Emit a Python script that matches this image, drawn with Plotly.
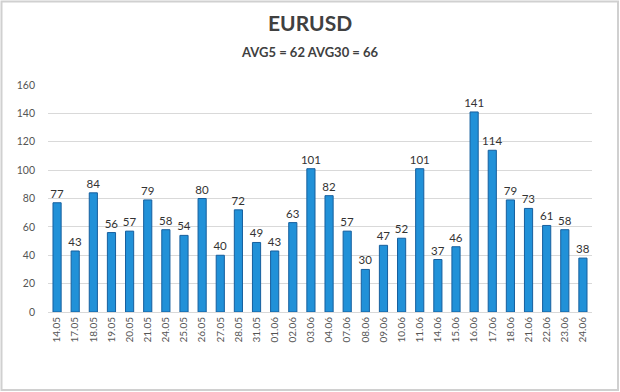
import plotly.graph_objects as go

dates = ["14.05", "17.05", "18.05", "19.05", "20.05", "21.05", "24.05", "25.05", "26.05", "27.05",
         "28.05", "31.05", "01.06", "02.06", "03.06", "04.06", "07.06", "08.06", "09.06", "10.06",
         "11.06", "14.06", "15.06", "16.06", "17.06", "18.06", "21.06", "22.06", "23.06", "24.06"]
values = [77, 43, 84, 56, 57, 79, 58, 54, 80, 40, 72, 49, 43, 63, 101, 82, 57, 30, 47, 52,
          101, 37, 46, 141, 114, 79, 73, 61, 58, 38]
y_ticks = [0, 20, 40, 60, 80, 100, 120, 140, 160]

title = "EURUSD"
subtitle = "AVG5 = 62 AVG30 = 66"

ML, MR, MT, MB = 48, 28, 85, 80
W, H = 620, 392

fig = go.Figure()
fig.add_trace(go.Bar(
    x=dates, y=values,
    text=[str(v) for v in values],
    textposition="outside",
    constraintext="none",
    textfont=dict(family="Lato, Open Sans, sans-serif", size=11.5, color="#333333"),
    cliponaxis=False,
    marker=dict(color="#2191d8", line=dict(color="#165f9e", width=1)),
    width=0.45,
))

fig.update_layout(
    width=W, height=H,
    margin=dict(l=ML, r=MR, t=MT, b=MB),
    paper_bgcolor="white", plot_bgcolor="white",
    showlegend=False,
    font=dict(family="Lato, Open Sans, sans-serif", color="#555555"),
    xaxis=dict(
        type="category", tickangle=-90, tickfont=dict(size=10, color="#555555"),
        showgrid=False, showline=True, linecolor="#d9d9d9", linewidth=1,
        ticks="", ticklen=0,
    ),
    yaxis=dict(
        range=[0, 160], tickvals=y_ticks, tickfont=dict(size=10.5, color="#555555"),
        showgrid=True, gridcolor="#d9d9d9", gridwidth=1, zeroline=False,
        showline=False, ticks="", ticklabelstandoff=12,
    ),
)
plot_h = H - MT - MB
plot_w = W - ML - MR
def px_x(x):
    return (x - ML) / plot_w
def px_y(y):
    return (H - MB - y) / plot_h

fig.add_annotation(text="<b>" + title + "</b>", x=px_x(310), y=px_y(22), xref="paper", yref="paper",
                   showarrow=False, yanchor="middle", font=dict(size=21, color="#404040"))
fig.add_annotation(text="<b>" + subtitle + "</b>", x=px_x(310), y=px_y(52), xref="paper", yref="paper",
                   showarrow=False, yanchor="middle", font=dict(size=13, color="#404040"))

fig.add_shape(type="rect", xref="paper", yref="paper",
              x0=px_x(1.5), x1=px_x(618), y0=px_y(390), y1=px_y(1.5),
              line=dict(color="#d0d0d0", width=2), fillcolor="rgba(0,0,0,0)", layer="below")

fig.write_html("out.html", config={"displayModeBar": False},
               post_script="document.body.style.margin='0';document.body.style.overflow='hidden';")
